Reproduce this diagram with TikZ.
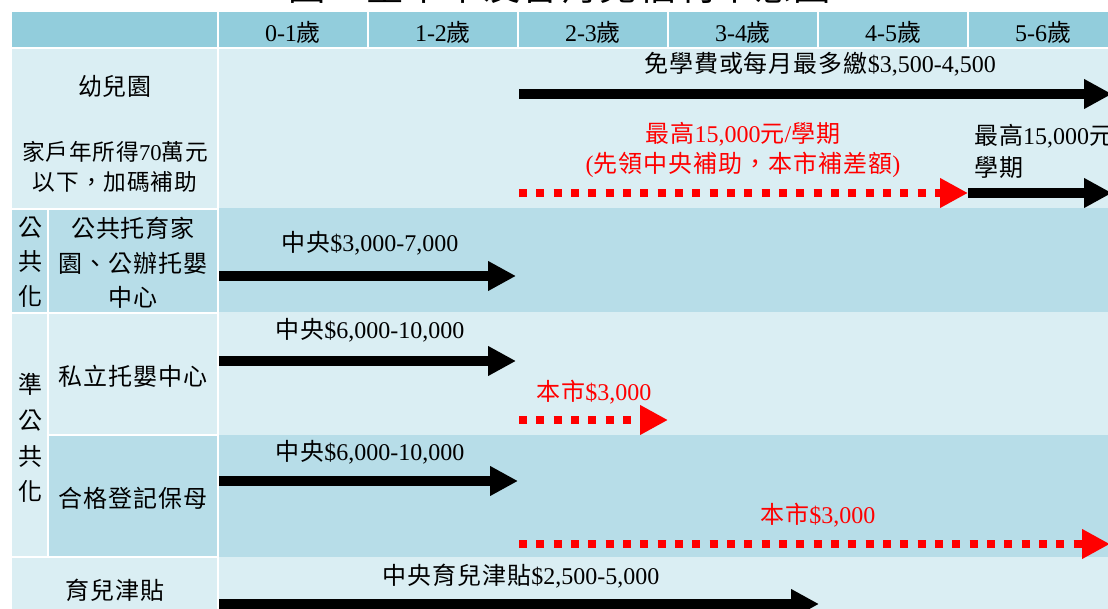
\documentclass[tikz,border=0pt]{standalone}
\usepackage{fontspec}
\setmainfont{Liberation Serif}
\newfontfamily\cjk[LetterSpace=4]{Noto Sans CJK TC}
\usetikzlibrary{arrows.meta,positioning}
\definecolor{headblue}{RGB}{146,205,220}
\definecolor{lightblue}{RGB}{218,238,243}
\definecolor{darkblue}{RGB}{183,221,232}
\newcommand{\zh}[1]{{\cjk #1}}

\begin{document}
\begin{tikzpicture}[
    x=0.75pt, y=-0.75pt,
    every node/.style={align=center, inner sep=0pt, font=\fontsize{18}{26}\selectfont},
    small/.style={font=\fontsize{17}{23}\selectfont},
    redtext/.style={text=red, font=\fontsize{18}{22.5}\selectfont},
    solidarrow/.style={-{Triangle[length=21pt,width=21pt]}, line width=7.5pt},
    cityarrow/.style={-{Triangle[length=21pt,width=21pt]}, red, line width=6pt, dash pattern=on 6pt off 7pt}
]
\useasboundingbox (0,0) rectangle (1108,609);
\clip (0,0) rectangle (1108,609);

% Titel (oben abgeschnitten)
\node[anchor=base, font=\fontsize{28}{30}\selectfont] (title) at (560,1) {\zh{圖：臺中市友善育兒福利示意圖}};

% Kopfzeile
\fill[headblue] (12,12) rectangle (217,47);
\foreach \lab [count=\i from 0] in {0-1,1-2,2-3,3-4,4-5,5-6} {
    \fill[headblue] (219+150*\i,12) rectangle (367+150*\i,47);
    \node (age\i) at (293+150*\i,32) {\lab\zh{歲}};
}

% Zeilen rechts
\fill[lightblue] (219,49) rectangle (1108,208);
\fill[darkblue] (219,208) rectangle (1108,312);
\fill[lightblue] (219,312) rectangle (1108,435);
\fill[darkblue] (219,435) rectangle (1108,557);
\fill[lightblue] (219,557) rectangle (1108,609);

% Zellen links
\fill[lightblue] (12,49) rectangle (217,208);
\fill[darkblue] (12,210) rectangle (47,312);
\fill[darkblue] (49,210) rectangle (217,312);
\fill[lightblue] (12,314) rectangle (47,556);
\fill[lightblue] (49,314) rectangle (217,434);
\fill[darkblue] (49,436) rectangle (217,556);
\fill[lightblue] (12,558) rectangle (217,609);

% Beschriftung links
\node (kg) at (115,86) {\zh{幼兒園}};
\node[small] (kgplus) at (115,167) {\zh{家戶年所得}70\zh{萬元}\\\zh{以下，加碼補助}};
\node (pubtag) at (30,262) {\zh{公}\\\zh{共}\\\zh{化}};
\node (pub) at (133,263) {\zh{公共托育家}\\\zh{園、公辦托嬰}\\\zh{中心}};
\node[font=\fontsize{18}{26.8}\selectfont] (semitag) at (30,438) {\zh{準}\\\zh{公}\\\zh{共}\\\zh{化}};
\node (priv) at (133,376) {\zh{私立托嬰中心}};
\node (nanny) at (133,498) {\zh{合格登記保母}};
\node (allow) at (115,590) {\zh{育兒津貼}};

% Kindergarten
\coordinate (kgS) at (519,94);
\coordinate (kgE) at (1112,94);
\draw[solidarrow] (kgS) -- (kgE);
\node (kgfee) at (820,64) {\zh{免學費或每月最多繳}\$3,500-4,500};

% Zuschuss unter 70 Wan
\coordinate (addS) at (519,193);
\coordinate (addM) at (968,193);
\coordinate (addE) at (1112,193);
\draw[cityarrow] (addS) -- (addM);
\draw[solidarrow] (addM) -- (addE);
\node[redtext] (addcity) at (743,150) {\zh{最高}15,000\zh{元}/\zh{學期}\\(\zh{先領中央補助，本市補差額})};
\node[anchor=west, align=left, font=\fontsize{18}{24}\selectfont] (addcentral) at (974,151) {\zh{最高}15,000\zh{元}/\\\zh{學期}};

% Öffentliche Betreuung
\coordinate (pubS) at (219,276);
\coordinate (pubE) at (516,276);
\draw[solidarrow] (pubS) -- (pubE);
\node (pubsum) at (370,243) {\zh{中央}\$3,000-7,000};

% Private Krippen
\coordinate (privS) at (219,361);
\coordinate (privE) at (516,361);
\draw[solidarrow] (privS) -- (privE);
\node (privsum) at (370,330) {\zh{中央}\$6,000-10,000};
\coordinate (privcS) at (519,420);
\coordinate (privcE) at (668,420);
\draw[cityarrow] (privcS) -- (privcE);
\node[redtext] (privcity) at (594,392) {\zh{本市}\$3,000};

% Tagesmütter
\coordinate (nanS) at (219,481);
\coordinate (nanE) at (518,481);
\draw[solidarrow] (nanS) -- (nanE);
\node (nansum) at (370,452) {\zh{中央}\$6,000-10,000};
\coordinate (nancS) at (519,544);
\coordinate (nancE) at (1110,544);
\draw[cityarrow] (nancS) -- (nancE);
\node[redtext] (nancity) at (818,515) {\zh{本市}\$3,000};

% Kindergeld
\coordinate (allS) at (219,604);
\coordinate (allE) at (819,604);
\draw[solidarrow] (allS) -- (allE);
\node (allsum) at (521,576) {\zh{中央育兒津貼}\$2,500-5,000};

\end{tikzpicture}
\end{document}
